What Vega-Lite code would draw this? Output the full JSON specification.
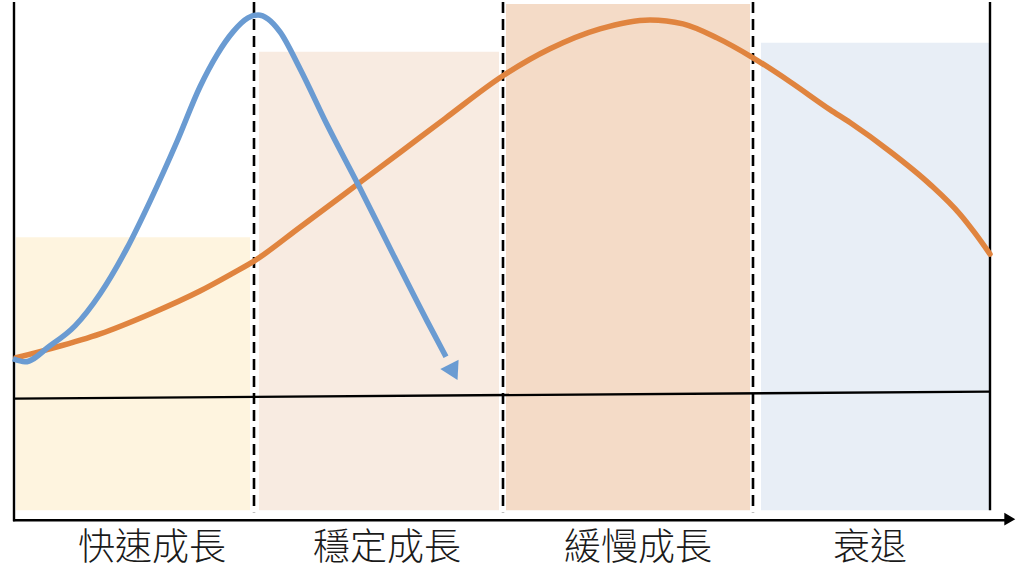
{
  "$schema": "https://vega.github.io/schema/vega-lite/v6.json",
  "autosize": {"type": "fit", "contains": "padding"},
  "width": 1024,
  "height": 576,
  "padding": 0,
  "background": "white",
  "config": {"view": {"stroke": null}},
  "datasets": {
    "stages": [
      {"stage": "快速成長", "start": 16, "end": 250, "top": 340, "bottom": 66, "mid": 152},
      {"stage": "穩定成長", "start": 259, "end": 499, "top": 526, "bottom": 66, "mid": 387},
      {"stage": "緩慢成長", "start": 506, "end": 750, "top": 574, "bottom": 66, "mid": 638},
      {"stage": "衰退", "start": 761, "end": 989, "top": 535, "bottom": 66, "mid": 870}
    ],
    "dividers": [
      {"t": 254, "top": 576, "bottom": 64},
      {"t": 503, "top": 576, "bottom": 64},
      {"t": 753, "top": 576, "bottom": 64}
    ],
    "frame": [
      {"part": "left", "t1": 14, "v1": 576, "t2": 14, "v2": 55},
      {"part": "right", "t1": 990, "v1": 576, "t2": 990, "v2": 66},
      {"part": "bottom", "t1": 13, "v1": 56, "t2": 1008, "v2": 56},
      {"part": "baseline", "t1": 14, "v1": 178, "t2": 990, "v2": 185}
    ],
    "blue": [
      {"i": 0, "t": 13, "v": 218},
      {"i": 1, "t": 25, "v": 215},
      {"i": 2, "t": 50, "v": 231},
      {"i": 3, "t": 75, "v": 251},
      {"i": 4, "t": 100, "v": 283},
      {"i": 5, "t": 127, "v": 329},
      {"i": 6, "t": 150, "v": 376},
      {"i": 7, "t": 177, "v": 436},
      {"i": 8, "t": 200, "v": 491},
      {"i": 9, "t": 217, "v": 523},
      {"i": 10, "t": 233, "v": 546},
      {"i": 11, "t": 248, "v": 560},
      {"i": 12, "t": 258, "v": 563},
      {"i": 13, "t": 268, "v": 559},
      {"i": 14, "t": 280, "v": 546},
      {"i": 15, "t": 300, "v": 509},
      {"i": 16, "t": 327, "v": 453},
      {"i": 17, "t": 360, "v": 389},
      {"i": 18, "t": 393, "v": 323},
      {"i": 19, "t": 427, "v": 256},
      {"i": 20, "t": 446, "v": 220}
    ],
    "orange": [
      {"i": 0, "t": 16, "v": 219},
      {"i": 1, "t": 50, "v": 228},
      {"i": 2, "t": 100, "v": 243},
      {"i": 3, "t": 150, "v": 263},
      {"i": 4, "t": 200, "v": 286},
      {"i": 5, "t": 233, "v": 304},
      {"i": 6, "t": 254, "v": 316},
      {"i": 7, "t": 300, "v": 350},
      {"i": 8, "t": 360, "v": 395},
      {"i": 9, "t": 400, "v": 425},
      {"i": 10, "t": 445, "v": 459},
      {"i": 11, "t": 503, "v": 502},
      {"i": 12, "t": 550, "v": 529},
      {"i": 13, "t": 600, "v": 549},
      {"i": 14, "t": 650, "v": 558},
      {"i": 15, "t": 683, "v": 554},
      {"i": 16, "t": 717, "v": 540},
      {"i": 17, "t": 753, "v": 520},
      {"i": 18, "t": 790, "v": 496},
      {"i": 19, "t": 830, "v": 468},
      {"i": 20, "t": 850, "v": 455},
      {"i": 21, "t": 890, "v": 426},
      {"i": 22, "t": 930, "v": 393},
      {"i": 23, "t": 960, "v": 363},
      {"i": 24, "t": 975, "v": 344},
      {"i": 25, "t": 990, "v": 323}
    ],
    "arrows": [
      {"which": "blue", "t": 453.5, "v": 204.5, "dir": 153},
      {"which": "axis", "t": 1009.8, "v": 57, "dir": 90}
    ]
  },
  "layer": [
    {
      "data": {"name": "stages"},
      "mark": {"type": "rect", "opacity": 1},
      "encoding": {
        "x": {"field": "start", "type": "quantitative", "scale": {"domain": [0, 1024], "nice": false, "zero": false}, "axis": null},
        "x2": {"field": "end"},
        "y": {"field": "top", "type": "quantitative", "scale": {"domain": [0, 576], "nice": false, "zero": false}, "axis": null},
        "y2": {"field": "bottom"},
        "color": {"field": "stage", "type": "nominal", "legend": null,
          "scale": {"domain": ["快速成長", "穩定成長", "緩慢成長", "衰退"], "range": ["#FEF4DF", "#F8EBE1", "#F4DBC7", "#E8EEF6"]}}
      }
    },
    {
      "data": {"name": "frame"},
      "mark": {"type": "rule", "color": "#000000", "strokeWidth": 2.4},
      "encoding": {
        "x": {"field": "t1", "type": "quantitative"},
        "y": {"field": "v1", "type": "quantitative"},
        "x2": {"field": "t2"},
        "y2": {"field": "v2"}
      }
    },
    {
      "data": {"name": "dividers"},
      "mark": {"type": "rule", "color": "#000000", "strokeWidth": 2.6, "strokeDash": [11, 6]},
      "encoding": {
        "x": {"field": "t", "type": "quantitative"},
        "y": {"field": "top", "type": "quantitative"},
        "y2": {"field": "bottom"}
      }
    },
    {
      "data": {"name": "orange"},
      "mark": {"type": "line", "color": "#E0843F", "strokeWidth": 5.5, "interpolate": "monotone", "strokeCap": "round"},
      "encoding": {
        "x": {"field": "t", "type": "quantitative"},
        "y": {"field": "v", "type": "quantitative"},
        "order": {"field": "i", "type": "quantitative"}
      }
    },
    {
      "data": {"name": "blue"},
      "mark": {"type": "line", "color": "#6A9BD2", "strokeWidth": 5.5, "interpolate": "monotone", "strokeCap": "butt"},
      "encoding": {
        "x": {"field": "t", "type": "quantitative"},
        "y": {"field": "v", "type": "quantitative"},
        "order": {"field": "i", "type": "quantitative"}
      }
    },
    {
      "data": {"name": "arrows"},
      "transform": [{"filter": "datum.which === 'blue'"}],
      "mark": {"type": "point", "shape": "triangle-up", "filled": true, "opacity": 1, "color": "#6A9BD2", "size": 420, "strokeWidth": 0},
      "encoding": {
        "x": {"field": "t", "type": "quantitative"},
        "y": {"field": "v", "type": "quantitative"},
        "angle": {"field": "dir", "type": "quantitative", "scale": null}
      }
    },
    {
      "data": {"name": "arrows"},
      "transform": [{"filter": "datum.which === 'axis'"}],
      "mark": {"type": "point", "shape": "triangle-up", "filled": true, "opacity": 1, "color": "#000000", "size": 160, "strokeWidth": 0},
      "encoding": {
        "x": {"field": "t", "type": "quantitative"},
        "y": {"field": "v", "type": "quantitative"},
        "angle": {"field": "dir", "type": "quantitative", "scale": null}
      }
    },
    {
      "data": {"name": "stages"},
      "mark": {"type": "text", "font": "Noto Sans CJK TC", "fontSize": 37, "fontWeight": 300, "color": "#1a1a1a", "align": "center", "baseline": "middle"},
      "encoding": {
        "x": {"field": "mid", "type": "quantitative"},
        "y": {"datum": 27, "type": "quantitative"},
        "text": {"field": "stage", "type": "nominal"}
      }
    }
  ]
}
